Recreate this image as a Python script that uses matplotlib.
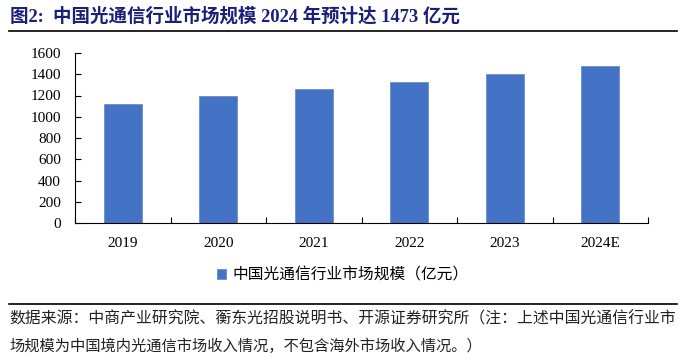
import matplotlib
matplotlib.use("Agg")
import matplotlib.pyplot as plt
from matplotlib.lines import Line2D

plt.rcParams['font.family'] = ['Liberation Serif', 'Noto Sans CJK SC']

years = ["2019", "2020", "2021", "2022", "2023", "2024E"]
market = [1116, 1200, 1263, 1329, 1404, 1473]
yticks = [0, 200, 400, 600, 800, 1000, 1200, 1400, 1600]

title = "图2:  中国光通信行业市场规模 2024 年预计达 1473 亿元"
legend_label = "中国光通信行业市场规模（亿元）"
source1 = "数据来源：中商产业研究院、蘅东光招股说明书、开源证券研究所（注：上述中国光通信行业市"
source2 = "场规模为中国境内光通信市场收入情况，不包含海外市场收入情况。）"

W, H = 687, 361
fig = plt.figure(figsize=(W / 100, H / 100), dpi=100)
ax = fig.add_axes([75 / W, (H - 223) / H, (648 - 75) / W, (223 - 53) / H])

x = list(range(len(years)))
bars = ax.bar(x, market, width=0.40, color="#4472C4", edgecolor="#6A8FD0",
              linewidth=0.6, label=legend_label)

ax.set_xlim(-0.5, len(years) - 0.5)
ax.set_ylim(0, 1600)
ax.set_yticks(yticks)
ax.set_yticklabels([str(v) for v in yticks], fontsize=11)
ax.set_xticks(x)
ax.set_xticklabels(years, fontsize=11)
ax.set_xticks([i + 0.5 for i in range(-1, len(years))], minor=True)
ax.tick_params(axis="x", which="major", length=0, pad=10)
ax.tick_params(axis="x", which="minor", direction="in", length=4, width=0.8)
ax.tick_params(axis="y", direction="in", length=4, width=0.8, pad=10)
for s in ["top", "right"]:
    ax.spines[s].set_visible(False)
ax.spines["left"].set_linewidth(0.8)
ax.spines["bottom"].set_linewidth(0.8)

fig.text(10 / W, 1 - 16 / H, title, fontsize=13.3, fontweight="bold",
         color="#1B1F7A", va="center", ha="left")
fig.add_artist(Line2D([9 / W, 677 / W], [1 - 31 / H] * 2, color="black", lw=1.2))

fig.legend(handles=[bars], labels=[legend_label], loc="center",
           bbox_to_anchor=(343 / W, 1 - 275 / H), frameon=False,
           handlelength=0.55, handleheight=0.55, handletextpad=0.4,
           prop={"family": ["Noto Sans CJK SC"], "size": 11.3})

fig.add_artist(Line2D([9 / W, 677 / W], [1 - 304 / H] * 2, color="black", lw=1.2))
fig.text(9 / W, 1 - 319 / H, source1, fontsize=11.4, color="#222222",
         va="center", ha="left", family=["Noto Sans CJK SC"])
fig.text(9 / W, 1 - 346 / H, source2, fontsize=11, color="#222222",
         va="center", ha="left", family=["Noto Sans CJK SC"])

fig.savefig("out.png", dpi=100)
